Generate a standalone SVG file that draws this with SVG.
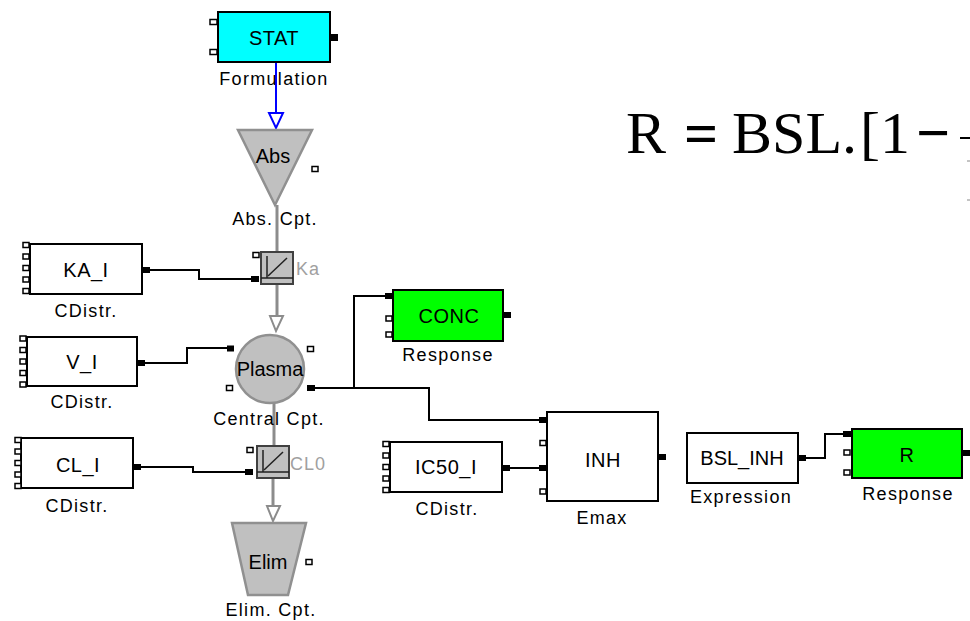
<svg xmlns="http://www.w3.org/2000/svg" width="970" height="621" viewBox="0 0 970 621">
<defs>
<style>
.box{fill:#fff;stroke:#000;stroke-width:2}
.green{fill:#00ff00;stroke:#000;stroke-width:2}
.cyan{fill:#00ffff;stroke:#000;stroke-width:2}
.port{fill:#fff;stroke:#000;stroke-width:1.5}
.pf{fill:#000}
.in{font-family:"Liberation Sans",Arial,sans-serif;font-size:20px;fill:#000;text-anchor:middle;letter-spacing:0.5px}
.lbl{font-family:"Liberation Sans",Arial,sans-serif;font-size:18px;fill:#000;text-anchor:middle;letter-spacing:1.3px}
.glbl{font-family:"Liberation Sans",Arial,sans-serif;font-size:18px;fill:#a0a0a0;letter-spacing:1px}
.wire{fill:none;stroke:#000;stroke-width:2}
.flow{fill:none;stroke:#8c8c8c;stroke-width:3}
.cpt{fill:#c0c0c0;stroke:#909090;stroke-width:2.5}
.arr{fill:#fff;stroke:#8c8c8c;stroke-width:2}
.rate{fill:#c0c0c0;stroke:#404040;stroke-width:2}
.rl{fill:none;stroke:#202020;stroke-width:1.5}
.eq{font-family:"Liberation Serif","Times New Roman",serif;font-size:60px;fill:#000}
</style>
</defs>

<g id="connectors">
<path class="wire" d="M150,270 H199 V279 H252"/>
<path class="wire" d="M145,363 H187 V348 H228"/>
<path class="wire" d="M141,467 H193 V472 H246"/>
<path class="wire" d="M315,388 H354 V296 H385"/>
<path class="wire" d="M354,388 H429 V420 H539"/>
<path class="wire" d="M510,468 H539"/>
<path class="wire" d="M806,458 H825 V434 H843"/>
<line x1="276" y1="62" x2="276" y2="113" stroke="#0000ff" stroke-width="2"/>
<polygon points="269,113 283,113 276,128" fill="#fff" stroke="#0000ff" stroke-width="2"/>
<line class="flow" x1="277" y1="205" x2="277" y2="252"/>
<line class="flow" x1="277" y1="284" x2="277" y2="316"/>
<polygon class="arr" points="270,316 283,316 276,331"/>
<line class="flow" x1="274" y1="403" x2="274" y2="446"/>
<line class="flow" x1="273" y1="478" x2="273" y2="506"/>
<polygon class="arr" points="267,506 280,506 273,521"/>
</g>

<g id="STAT">
<rect class="cyan" x="218" y="12" width="112" height="50"/>
<rect class="port" x="210" y="19.5" width="7" height="5"/>
<rect class="port" x="210" y="49.5" width="7" height="5"/>
<rect class="pf" x="330" y="34" width="8" height="7"/>
<text class="in" x="274" y="45">STAT</text>
<text class="lbl" x="274" y="85">Formulation</text>
</g>

<g id="Abs">
<polygon class="cpt" points="238,130 312,130 275,205"/>
<rect class="port" x="312" y="166.5" width="6" height="5"/>
<text class="in" x="273" y="163" style="letter-spacing:0">Abs</text>
<text class="lbl" x="275" y="225">Abs. Cpt.</text>
</g>

<g id="Ka">
<rect class="rate" x="261" y="252" width="32" height="32"/>
<line class="rl" x1="267" y1="256" x2="267" y2="278"/>
<line class="rl" x1="261" y1="278" x2="293" y2="278"/>
<line class="rl" x1="268" y1="276" x2="287" y2="258"/>
<rect class="port" x="253" y="252.5" width="6" height="5"/>
<rect class="pf" x="251" y="276" width="8" height="6"/>
<text class="glbl" x="296" y="275">Ka</text>
</g>

<g id="Plasma">
<circle class="cpt" cx="270" cy="369" r="34"/>
<rect class="pf" x="227" y="345.5" width="7" height="6"/>
<rect class="port" x="307.5" y="346.5" width="6" height="5"/>
<rect class="port" x="226.5" y="385.5" width="6" height="5"/>
<rect class="pf" x="307" y="385" width="8" height="6"/>
<text class="in" x="270" y="376" style="letter-spacing:0">Plasma</text>
<text class="lbl" x="269" y="425">Central Cpt.</text>
</g>

<g id="CL0">
<rect class="rate" x="257" y="446" width="32" height="32"/>
<line class="rl" x1="263" y1="450" x2="263" y2="472"/>
<line class="rl" x1="257" y1="472" x2="289" y2="472"/>
<line class="rl" x1="264" y1="470" x2="283" y2="452"/>
<rect class="port" x="247" y="447.5" width="6" height="5"/>
<rect class="pf" x="245" y="469" width="8" height="6"/>
<text class="glbl" x="290" y="470">CL0</text>
</g>

<g id="Elim">
<polygon class="cpt" points="232,523 306,523 288,595 248,595"/>
<rect class="port" x="306" y="559.5" width="6" height="5"/>
<text class="in" x="268" y="569" style="letter-spacing:0">Elim</text>
<text class="lbl" x="271" y="616">Elim. Cpt.</text>
</g>

<g id="KA_I">
<rect class="box" x="30" y="244" width="112" height="50"/>
<rect class="port" x="23" y="242.5" width="6" height="5"/>
<rect class="port" x="23" y="254" width="6" height="5"/>
<rect class="port" x="23" y="265.5" width="6" height="5"/>
<rect class="port" x="23" y="277" width="6" height="5"/>
<rect class="port" x="23" y="288.5" width="6" height="5"/>
<rect class="pf" x="142" y="267" width="8" height="6"/>
<text class="in" x="86" y="277">KA_I</text>
<text class="lbl" x="86" y="317">CDistr.</text>
</g>

<g id="V_I">
<rect class="box" x="27" y="337" width="110" height="49"/>
<rect class="port" x="20" y="336" width="6" height="5"/>
<rect class="port" x="20" y="347.5" width="6" height="5"/>
<rect class="port" x="20" y="359" width="6" height="5"/>
<rect class="port" x="20" y="370.5" width="6" height="5"/>
<rect class="port" x="20" y="382" width="6" height="5"/>
<rect class="pf" x="137" y="360" width="8" height="6"/>
<text class="in" x="82" y="369">V_I</text>
<text class="lbl" x="82" y="408">CDistr.</text>
</g>

<g id="CL_I">
<rect class="box" x="21" y="438" width="112" height="50"/>
<rect class="port" x="15" y="437.5" width="6" height="5"/>
<rect class="port" x="15" y="449" width="6" height="5"/>
<rect class="port" x="15" y="460.5" width="6" height="5"/>
<rect class="port" x="15" y="472" width="6" height="5"/>
<rect class="port" x="15" y="483.5" width="6" height="5"/>
<rect class="pf" x="133" y="464" width="8" height="6"/>
<text class="in" x="78" y="472">CL_I</text>
<text class="lbl" x="77" y="512">CDistr.</text>
</g>

<g id="CONC">
<rect class="green" x="393" y="290" width="110" height="51"/>
<rect class="pf" x="385" y="293" width="8" height="6"/>
<rect class="port" x="386" y="316" width="6" height="5"/>
<rect class="port" x="386" y="332" width="6" height="5"/>
<rect class="pf" x="503" y="312" width="8" height="6"/>
<text class="in" x="449" y="323">CONC</text>
<text class="lbl" x="448" y="361">Response</text>
</g>

<g id="IC50_I">
<rect class="box" x="390" y="442" width="112" height="50"/>
<rect class="port" x="383" y="441.5" width="6" height="5"/>
<rect class="port" x="383" y="453" width="6" height="5"/>
<rect class="port" x="383" y="464.5" width="6" height="5"/>
<rect class="port" x="383" y="476" width="6" height="5"/>
<rect class="port" x="383" y="487.5" width="6" height="5"/>
<rect class="pf" x="502" y="465" width="8" height="6"/>
<text class="in" x="446" y="474">IC50_I</text>
<text class="lbl" x="447" y="515">CDistr.</text>
</g>

<g id="INH">
<rect class="box" x="547" y="412" width="111" height="89"/>
<rect class="pf" x="539" y="417" width="8" height="6"/>
<rect class="port" x="540" y="440.5" width="6" height="5"/>
<rect class="pf" x="539" y="465" width="8" height="6"/>
<rect class="port" x="540" y="489" width="6" height="5"/>
<rect class="pf" x="658" y="454" width="8" height="6"/>
<text class="in" x="603" y="467">INH</text>
<text class="lbl" x="602" y="524">Emax</text>
</g>

<g id="BSL_INH">
<rect class="box" x="687" y="433" width="111" height="50"/>
<rect class="pf" x="798" y="455" width="8" height="6"/>
<text class="in" x="742" y="465" style="letter-spacing:0">BSL_INH</text>
<text class="lbl" x="741" y="503">Expression</text>
</g>

<g id="R">
<rect class="green" x="852" y="429" width="110" height="49"/>
<rect class="pf" x="843" y="431" width="8" height="6"/>
<rect class="port" x="844" y="450" width="6" height="5"/>
<rect class="port" x="844" y="470" width="6" height="5"/>
<rect class="pf" x="962" y="450" width="8" height="6"/>
<text class="in" x="907" y="462">R</text>
<text class="lbl" x="908" y="500">Response</text>
</g>

<g id="formula">
<text class="eq" x="626" y="153">R</text>
<text class="eq" x="684" y="153" font-weight="bold">=</text>
<text class="eq" x="732" y="153">BSL.</text>
<text class="eq" x="860" y="153">[</text>
<text class="eq" x="880" y="153">1</text>
<text class="eq" x="916" y="153" font-weight="bold">−</text>
<line x1="960" y1="138" x2="970" y2="138" stroke="#000" stroke-width="2"/>
<line x1="967" y1="161" x2="970" y2="161" stroke="#888" stroke-width="1"/>
<line x1="967" y1="200" x2="970" y2="200" stroke="#888" stroke-width="1"/>
</g>
</svg>
